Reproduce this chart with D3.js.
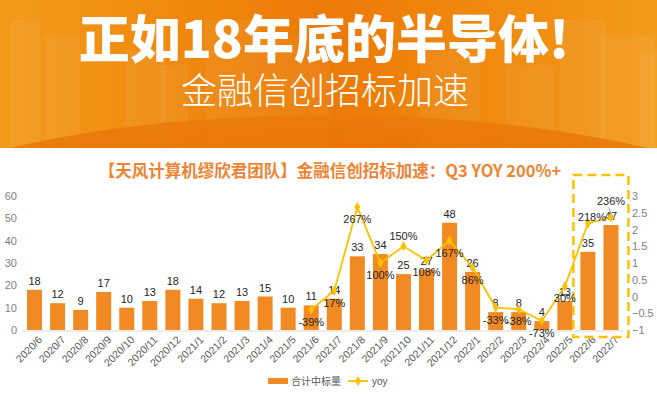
<!DOCTYPE html>
<html>
<head>
<meta charset="utf-8">
<script src="https://cdn.jsdelivr.net/npm/d3@7"></script>
<style>
  body { margin: 0; background: #fff; }
  svg { display: block; font-family: "Noto Sans CJK SC", "Noto Sans", sans-serif; }
</style>
</head>
<body>
<div id="chart"></div>
<script>
// data
const months = ["2020/6","2020/7","2020/8","2020/9","2020/10","2020/11","2020/12",
  "2021/1","2021/2","2021/3","2021/4","2021/5","2021/6","2021/7","2021/8","2021/9",
  "2021/10","2021/11","2021/12","2022/1","2022/2","2022/3","2022/4","2022/5","2022/6","2022/7"];
const counts = [18,12,9,17,10,13,18,14,12,13,15,10,11,14,33,34,25,27,48,26,8,8,4,13,35,47];
const yoy = [null,null,null,null,null,null,null,null,null,null,null,null,
  -0.39,0.17,2.67,1.00,1.50,1.08,1.67,0.86,-0.33,-0.38,-0.73,0.30,2.18,2.36];
const yoyLabelAbove = ["2021/10","2022/6","2022/7"];
const leftTicks = [0,10,20,30,40,50,60];
const rightTicks = [-1,-0.5,0,0.5,1,1.5,2,2.5,3];

const headline = "正如18年底的半导体!";
const subhead = "金融信创招标加速";
const chartTitle = "【天风计算机缪欣君团队】金融信创招标加速：Q3 YOY 200%+";
const legendBar = "合计中标量", legendLine = "yoy";

const W = 657, H = 394;
const barColor = "#F28A24", lineColor = "#FFC000";

const svg = d3.select("#chart").append("svg")
    .attr("width", W).attr("height", H);

// ---- header banner ----
const defs = svg.append("defs");
const hg = defs.append("linearGradient").attr("id", "hg");
hg.append("stop").attr("offset", "0%").attr("stop-color", "#F39A1A");
hg.append("stop").attr("offset", "50%").attr("stop-color", "#EC7A06");
hg.append("stop").attr("offset", "100%").attr("stop-color", "#F39A1A");
const eg = defs.append("linearGradient").attr("id", "eg").attr("x1", 0).attr("x2", 0).attr("y1", 0).attr("y2", 1);
eg.append("stop").attr("offset", "0%").attr("stop-color", "#EA7A0A");
eg.append("stop").attr("offset", "30%").attr("stop-color", "#E56B00");
eg.append("stop").attr("offset", "100%").attr("stop-color", "#E56B00");

svg.append("rect").attr("width", W).attr("height", 148).attr("fill", "url(#hg)");

// faint decorative columns behind the headline
const deco = [[10,30],[45,35],[125,40],[160,28],[205,55],[260,70],[420,60],[505,50],[560,45],[600,55],[640,20]];
svg.append("g").selectAll("rect").data(deco).join("rect")
    .attr("x", d => d[0]).attr("width", d => d[1])
    .attr("y", (d, i) => 20 + (i % 4) * 15).attr("height", 148)
    .attr("fill", "#fff").attr("opacity", 0.05);

svg.append("ellipse").attr("cx", W / 2).attr("cy", 245).attr("rx", 478).attr("ry", 130)
    .attr("fill", "url(#eg)").attr("opacity", 0.8);
svg.append("rect").attr("y", 148).attr("width", W).attr("height", H - 148).attr("fill", "#fff");

svg.append("text").attr("x", 324).attr("y", 58)
    .attr("text-anchor", "middle").attr("fill", "#fff")
    .attr("font-size", 51).attr("font-weight", 900)
    .text(headline);
svg.append("text").attr("x", 325).attr("y", 104)
    .attr("text-anchor", "middle").attr("fill", "#fff")
    .attr("font-size", 36).attr("font-weight", 300)
    .text(subhead);

// ---- chart ----
svg.append("text").attr("x", 330).attr("y", 177)
    .attr("text-anchor", "middle").attr("fill", "#EE8433")
    .attr("font-size", 16.5).attr("font-weight", 700)
    .text(chartTitle);

const x = d3.scaleBand().domain(months).range([23, 622.5]).paddingInner(0.35).paddingOuter(0.175);
const yL = d3.scaleLinear().domain([0, 60]).range([330, 196]);
const yR = d3.scaleLinear().domain([-1, 3]).range([330, 196]);

const gAxL = svg.append("g").attr("transform", "translate(20,0)")
    .call(d3.axisLeft(yL).tickValues(leftTicks).tickSize(0).tickPadding(3));
const gAxR = svg.append("g").attr("transform", "translate(630,0)")
    .call(d3.axisRight(yR).tickValues(rightTicks).tickSize(0).tickPadding(2).tickFormat(d3.format("")));
[gAxL, gAxR].forEach(g => {
  g.select(".domain").remove();
  g.selectAll("text").attr("fill", "#7F7F7F").attr("font-size", 11)
      .attr("font-family", "Liberation Sans, Arial, sans-serif");
});

const gX = svg.append("g").attr("transform", "translate(0,331)")
    .call(d3.axisBottom(x).tickSize(0).tickPadding(4));
gX.select(".domain").attr("stroke", "#D9D9D9").attr("d", "M22,0H623");
gX.selectAll("text")
    .attr("fill", "#595959").attr("font-size", 10.5)
    .attr("font-family", "Liberation Sans, Arial, sans-serif")
    .attr("text-anchor", "end")
    .attr("dy", "0.35em")
    .attr("transform", "translate(3,4) rotate(-45)");

svg.append("g").selectAll("rect").data(counts).join("rect")
    .attr("x", (d, i) => x(months[i]))
    .attr("width", x.bandwidth())
    .attr("y", d => yL(d))
    .attr("height", d => yL(0) - yL(d))
    .attr("fill", barColor);

svg.append("g").selectAll("text").data(counts).join("text")
    .attr("x", (d, i) => x(months[i]) + x.bandwidth() / 2)
    .attr("y", d => yL(d) - 5)
    .attr("text-anchor", "middle")
    .attr("fill", "#262626").attr("font-size", 11)
    .attr("font-family", "Liberation Sans, Arial, sans-serif")
    .text(d => d);

// highlight box around latest months
const boxL = x("2022/6") - 7, boxR = x("2022/7") + x.bandwidth() + 10;
svg.append("rect").attr("x", boxL).attr("y", 175)
    .attr("width", boxR - boxL).attr("height", 162)
    .attr("fill", "none").attr("stroke", lineColor)
    .attr("stroke-width", 2.5).attr("stroke-dasharray", "9,5");

// yoy line
const pts = months.map((m, i) => ({ m, v: yoy[i] })).filter(d => d.v !== null);
const cx = d => x(d.m) + x.bandwidth() / 2;
svg.append("path").datum(pts)
    .attr("fill", "none").attr("stroke", lineColor).attr("stroke-width", 1.8)
    .attr("d", d3.line().x(cx).y(d => yR(d.v)));
svg.append("g").selectAll("path").data(pts).join("path")
    .attr("transform", d => `translate(${cx(d)},${yR(d.v)})`)
    .attr("d", d3.symbol(d3.symbolDiamond, 30))
    .attr("fill", lineColor);

svg.append("g").selectAll("text").data(pts).join("text")
    .attr("x", d => cx(d) + (d.m === "2022/6" ? 4 : 0))
    .attr("y", d => {
      if (d.m === "2022/7") return yR(d.v) - 12;
      if (d.m === "2022/6") return yR(d.v) - 2;
      return yoyLabelAbove.includes(d.m) ? yR(d.v) - 6 : yR(d.v) + 16;
    })
    .attr("text-anchor", "middle")
    .attr("fill", "#262626").attr("font-size", 11)
    .attr("font-family", "Liberation Sans, Arial, sans-serif")
    .text(d => Math.round(d.v * 100) + "%");
// small leader for the 236% label
const last = pts[pts.length - 1];
svg.append("line").attr("x1", cx(last) - 2).attr("x2", cx(last))
    .attr("y1", yR(last.v) - 10).attr("y2", yR(last.v) - 3)
    .attr("stroke", "#7F7F7F").attr("stroke-width", 0.8);

// legend
const lg = svg.append("g").attr("transform", "translate(268,381)");
lg.append("rect").attr("y", -3).attr("width", 20).attr("height", 6).attr("fill", barColor);
lg.append("text").attr("x", 23).attr("y", 4).attr("font-size", 10).attr("fill", "#595959").text(legendBar);
lg.append("line").attr("x1", 80).attr("x2", 100).attr("stroke", lineColor).attr("stroke-width", 1.8);
lg.append("path").attr("transform", "translate(90,0)").attr("d", d3.symbol(d3.symbolDiamond, 30)).attr("fill", lineColor);
lg.append("text").attr("x", 104).attr("y", 4).attr("font-size", 10).attr("fill", "#595959")
    .attr("font-family", "Liberation Sans, Arial, sans-serif").text(legendLine);
</script>
</body>
</html>
